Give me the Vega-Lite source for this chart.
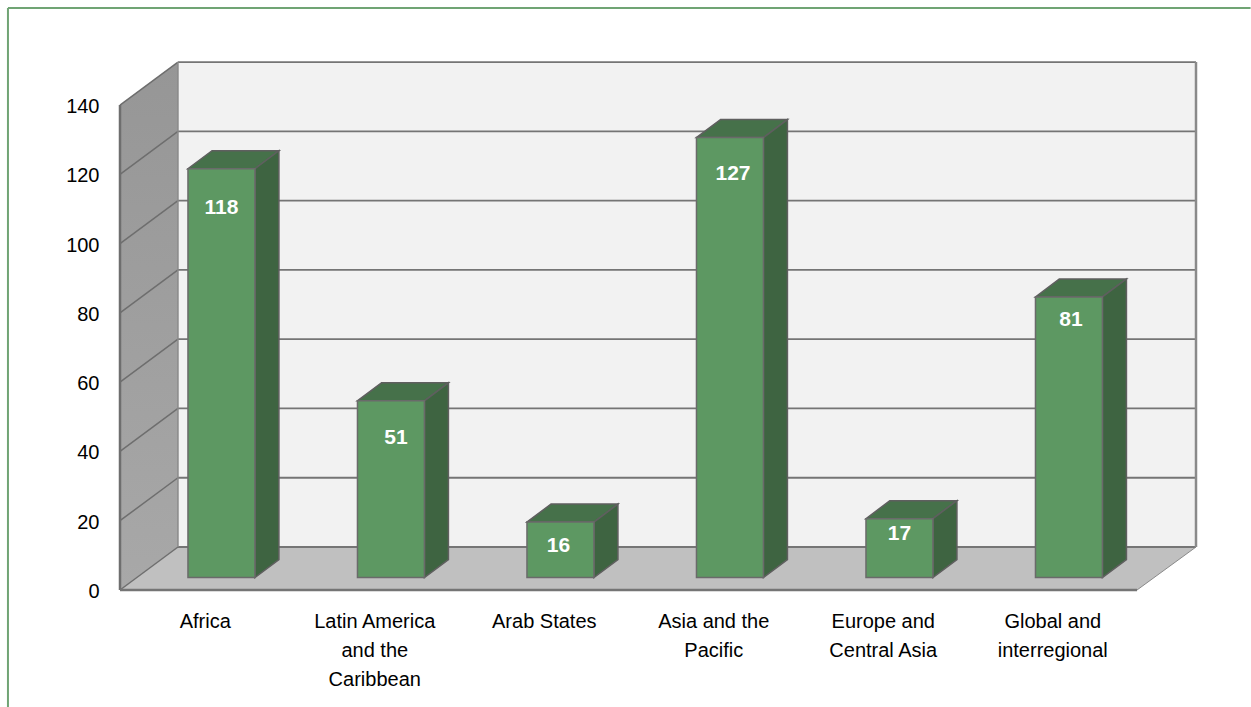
{"$schema":"https://vega.github.io/schema/vega-lite/v6.json","width":1076,"height":528,"autosize":{"type":"none"},"padding":{"left":120,"top":62,"right":55,"bottom":117},"background":"white","config":{"view":{"stroke":null},"font":"Liberation Sans"},
"datasets":{"bars":[{"category":"Africa","i":0,"value":118},{"category":"Latin America and the Caribbean","i":1,"value":51},{"category":"Arab States","i":2,"value":16},{"category":"Asia and the Pacific","i":3,"value":127},{"category":"Europe and Central Asia","i":4,"value":17},{"category":"Global and interregional","i":5,"value":81}],
"ticks":[{"tick":0},{"tick":20},{"tick":40},{"tick":60},{"tick":80},{"tick":100},{"tick":120},{"tick":140}],
"planes":[{"depth":0},{"depth":1}],"one":[{"k":1}]},
"layer":[
{"data":{"name":"one"},"mark":{"type":"rect","fill":"#f2f2f2"},"encoding":{
"x":{"datum":0.342,"type":"quantitative","scale":{"domain":[0,6.348],"nice":false,"zero":false},"axis":{"values":[0.5,1.5,2.5,3.5,4.5,5.5],"title":null,"domain":false,"ticks":false,"grid":false,"labelFont":"Liberation Sans","labelFontSize":20,"labelColor":"#000","labelPadding":21,"labelLineHeight":29,"labelOverlap":false,"labelFlush":false,"labelBound":false,"labelExpr":"[['Africa'],['Latin America','and the','Caribbean'],['Arab States'],['Asia and the','Pacific'],['Europe and','Central Asia'],['Global and','interregional']][floor(datum.value)]"}},
"x2":{"datum":6.348},
"y":{"datum":12.41,"type":"quantitative","scale":{"domain":[0,152.42],"nice":false,"zero":false},"axis":{"values":[0,20,40,60,80,100,120,140],"title":null,"domain":false,"ticks":false,"grid":false,"labelFont":"Liberation Sans","labelFontSize":20,"labelColor":"#000","labelPadding":21,"labelOffset":1.5,"labelOverlap":false,"labelFlush":false,"labelBound":false}},
"y2":{"datum":152.42}}},
{"data":{"name":"planes"},"transform":[{"calculate":"datum.depth*0.342","as":"x"},{"calculate":"datum.depth*12.41","as":"lo"},{"calculate":"140+datum.depth*12.41","as":"hi"}],"mark":{"type":"area","orient":"vertical","fill":{"x1":0,"y1":0,"x2":0,"y2":1,"gradient":"linear","stops":[{"offset":0,"color":"#969696"},{"offset":1,"color":"#a8a8a8"}]}},"encoding":{"x":{"field":"x","type":"quantitative"},"y":{"field":"hi","type":"quantitative"},"y2":{"field":"lo"}}},
{"data":{"name":"planes"},"transform":[{"calculate":"datum.depth*12.41","as":"y"},{"calculate":"datum.depth*0.342","as":"xa"},{"calculate":"6+datum.depth*0.348","as":"xb"}],"mark":{"type":"area","orient":"horizontal","fill":"#c0c0c0"},"encoding":{"y":{"field":"y","type":"quantitative"},"x":{"field":"xa","type":"quantitative"},"x2":{"field":"xb"}}},
{"data":{"name":"ticks"},"transform":[{"calculate":"datum.tick+12.41","as":"back"}],"mark":{"type":"rule","stroke":"#757575","strokeWidth":1.8},"encoding":{"x":{"datum":0.342,"type":"quantitative"},"x2":{"datum":6.348},"y":{"field":"back","type":"quantitative"},"y2":{"field":"back"}}},
{"data":{"name":"ticks"},"transform":[{"calculate":"datum.tick+12.41","as":"back"}],"mark":{"type":"rule","stroke":"#6e6e6e","strokeWidth":1.5},"encoding":{"x":{"datum":0,"type":"quantitative"},"x2":{"datum":0.342},"y":{"field":"tick","type":"quantitative"},"y2":{"field":"back"}}},
{"data":{"name":"one"},"mark":{"type":"rule","stroke":"#6e6e6e","strokeWidth":2.5},"encoding":{"x":{"datum":0,"type":"quantitative"},"y":{"datum":0,"type":"quantitative"},"y2":{"datum":140}}},
{"data":{"name":"one"},"mark":{"type":"rule","stroke":"#8a8a8a","strokeWidth":1.5},"encoding":{"x":{"datum":0.342,"type":"quantitative"},"y":{"datum":12.41,"type":"quantitative"},"y2":{"datum":152.42}}},
{"data":{"name":"one"},"mark":{"type":"rule","stroke":"#8a8a8a","strokeWidth":2.5},"encoding":{"x":{"datum":6.348,"type":"quantitative"},"y":{"datum":12.41,"type":"quantitative"},"y2":{"datum":152.42}}},
{"data":{"name":"one"},"mark":{"type":"rule","stroke":"#8a8a8a","strokeWidth":1},"encoding":{"x":{"datum":6,"type":"quantitative"},"x2":{"datum":6.348},"y":{"datum":0,"type":"quantitative"},"y2":{"datum":12.41}}},
{"data":{"name":"one"},"mark":{"type":"rule","stroke":"#757575","strokeWidth":2.5},"encoding":{"x":{"datum":0,"type":"quantitative"},"x2":{"datum":6},"y":{"datum":0,"type":"quantitative"},"y2":{"datum":0}}},
{"data":{"name":"bars"},"transform":[{"calculate":"datum.value+3.6","as":"top"},{"calculate":"[datum.top,datum.top+5.2]","as":"ys"},{"calculate":"[datum.i+0.401,datum.i+0.401+0.1416]","as":"xa"},{"calculate":"[datum.i+0.796,datum.i+0.796+0.1416]","as":"xb"},{"flatten":["ys","xa","xb"]}],"mark":{"type":"area","orient":"horizontal","fill":"#46714a","stroke":"#5f5f5f","strokeWidth":1.5},"encoding":{"y":{"field":"ys","type":"quantitative"},"x":{"field":"xa","type":"quantitative"},"x2":{"field":"xb"},"detail":{"field":"category"}}},
{"data":{"name":"bars"},"transform":[{"calculate":"[datum.i+0.796,datum.i+0.796+0.1416]","as":"xs"},{"calculate":"[datum.value+3.6,datum.value+3.6+5.2]","as":"hi"},{"calculate":"[3.6,3.6+5.2]","as":"lo"},{"flatten":["xs","hi","lo"]}],"mark":{"type":"area","orient":"vertical","fill":"#3e6441","stroke":"#5f5f5f","strokeWidth":1.5},"encoding":{"x":{"field":"xs","type":"quantitative"},"y":{"field":"hi","type":"quantitative"},"y2":{"field":"lo"},"detail":{"field":"category"}}},
{"data":{"name":"bars"},"transform":[{"calculate":"datum.i+0.401","as":"x0"},{"calculate":"datum.i+0.796","as":"x1"},{"calculate":"datum.value+3.6","as":"top"},{"calculate":"3.6","as":"base"}],"mark":{"type":"rect","fill":"#5d9862","stroke":"#6a6a6a","strokeWidth":1.5},"encoding":{"x":{"field":"x0","type":"quantitative"},"x2":{"field":"x1"},"y":{"field":"base","type":"quantitative"},"y2":{"field":"top"}}},
{"data":{"name":"bars"},"transform":[{"calculate":"datum.i+0.5985+(datum.value==51?0.03:datum.value==16?-0.012:datum.value==127?0.018:datum.value==81?0.012:0)","as":"cx"},{"calculate":"datum.value+3.6-(datum.value==118?11.35:datum.value==127?10.5:datum.value==51?10.8:datum.value==81?6.7:datum.value==16?6.8:4.5)","as":"ly"}],"mark":{"type":"text","font":"Liberation Sans","fontWeight":"bold","fontSize":21,"color":"white","baseline":"middle","align":"center"},"encoding":{"x":{"field":"cx","type":"quantitative"},"y":{"field":"ly","type":"quantitative"},"text":{"field":"value","type":"quantitative"}}},
{"data":{"name":"one"},"mark":{"type":"rule","stroke":"#70a474","strokeWidth":2},"encoding":{"x":{"datum":-0.661,"type":"quantitative"},"x2":{"datum":6.67},"y":{"datum":168,"type":"quantitative"},"y2":{"datum":168}}},
{"data":{"name":"one"},"mark":{"type":"rule","stroke":"#70a474","strokeWidth":2},"encoding":{"x":{"datum":-0.661,"type":"quantitative"},"y":{"datum":168,"type":"quantitative"},"y2":{"datum":-33.8}}}
]}
